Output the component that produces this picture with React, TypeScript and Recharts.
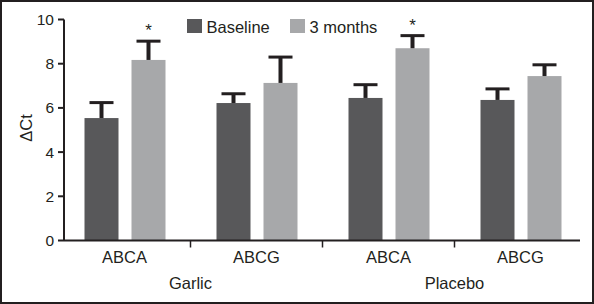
import React from 'react';
import { BarChart, Bar, XAxis, YAxis, Legend, Label } from 'recharts';

const genes = ['ABCA', 'ABCG', 'ABCA', 'ABCG'];
const groupNames = ['Garlic', 'Placebo'];
const baseline = [5.54, 6.22, 6.45, 6.36];
const baselineErr = [0.7, 0.42, 0.6, 0.5];
const months3 = [8.17, 7.13, 8.7, 7.44];
const months3Err = [0.85, 1.17, 0.57, 0.51];
const months3Sig = [true, false, true, false];
const yTicks = [0, 2, 4, 6, 8, 10];
const seriesNames = ['Baseline', '3 months'];
const yLabel = 'ΔCt';

const centers = genes.map((_, i) => i + 0.5);
const boundaries = genes.slice(1).map((_, i) => i + 1);
const xTicks = [...centers, ...boundaries].sort((a, b) => a - b);

const data = genes.map((g, i) => ({
  pos: centers[i],
  gene: g,
  baseline: baseline[i],
  baselineErr: baselineErr[i],
  baselineSig: false,
  months3: months3[i],
  months3Err: months3Err[i],
  months3Sig: months3Sig[i],
}));

const FONT = '"Liberation Sans", Arial, sans-serif';
const INK = '#231f20';
const DARK = '#58585a';
const LIGHT = '#a7a8aa';

const makeShape = (fill: string, key: string) => (props: any) => {
  const { x, y, width, height, payload } = props;
  const v = payload[key];
  const e = payload[key + 'Err'];
  const sig = payload[key + 'Sig'];
  const ppu = height / v;
  const cx = x + width / 2;
  const topY = y - e * ppu;
  return (
    <g>
      <rect x={x} y={y} width={width} height={height} fill={fill} />
      <line x1={cx} x2={cx} y1={y} y2={topY} stroke={INK} strokeWidth={4} />
      <line x1={cx - 12} x2={cx + 12} y1={topY} y2={topY} stroke={INK} strokeWidth={3} />
      {sig && (
        <text x={cx} y={topY - 5} textAnchor="middle" fontFamily={FONT} fontSize={17} fill={INK}>
          *
        </text>
      )}
    </g>
  );
};

const XTick = (props: any) => {
  const { x, y, payload } = props;
  const v = payload.value;
  const idx = centers.indexOf(v);
  if (idx >= 0) {
    return (
      <text x={x} y={y + 22.5} textAnchor="middle" fontFamily={FONT} fontSize={16.5} fill={INK}>
        {genes[idx]}
      </text>
    );
  }
  const isGroupCenter = v % 2 === 1;
  return (
    <g>
      <line x1={x} x2={x} y1={y} y2={y + 7} stroke={INK} strokeWidth={1.5} />
      {isGroupCenter && (
        <text x={x} y={y + 48.5} textAnchor="middle" fontFamily={FONT} fontSize={16.5} fill={INK}>
          {groupNames[(v - 1) / 2]}
        </text>
      )}
    </g>
  );
};

const YLabel = (props: any) => {
  const vb = props.viewBox;
  const cx = vb.x + 32;
  const cy = vb.y + vb.height / 2 - 2;
  return (
    <text x={cx} y={cy} transform={`rotate(-90 ${cx} ${cy})`} textAnchor="middle" fontFamily={FONT} fontSize={16.5} fill={INK}>
      {yLabel}
    </text>
  );
};

const LegendContent = (props: any) => {
  const items = [...(props.payload || [])].sort(
    (a: any, b: any) => seriesNames.indexOf(a.value) - seriesNames.indexOf(b.value)
  );
  const starts = [187, 290];
  return (
    <svg width={594} height={40} style={{ display: 'block' }}>
      {items.map((it: any, i: number) => (
        <g key={i}>
          <rect x={starts[i]} y={19} width={15} height={14} fill={it.color} />
          <text x={starts[i] + 19.5} y={32.7} fontFamily={FONT} fontSize={16.5} fill={INK}>
            {it.value}
          </text>
        </g>
      ))}
    </svg>
  );
};

export default function App() {
  return (
    <div style={{ position: 'fixed', left: 0, top: 0, width: 594, height: 304, background: '#fff' }}>
      <BarChart
        width={594}
        height={304}
        data={data}
        margin={{ top: 19.5, right: 14, bottom: 0, left: 0 }}
        barSize={34}
        barGap={13}
      >
        <XAxis
          dataKey="pos"
          type="number"
          domain={[5.5 / 132, 521.5 / 132]}
          allowDataOverflow
          ticks={xTicks}
          interval={0}
          tick={<XTick />}
          tickLine={false}
          tickSize={0}
          tickMargin={0}
          height={63.5}
          axisLine={{ stroke: INK, strokeWidth: 2 }}
        />
        <YAxis
          type="number"
          domain={[0, 10]}
          ticks={yTicks}
          width={64}
          tickSize={6}
          tickMargin={4}
          axisLine={{ stroke: INK, strokeWidth: 2 }}
          tickLine={{ stroke: INK, strokeWidth: 2 }}
          tick={{ fontFamily: FONT, fontSize: 15.5, fill: INK }}
        >
          <Label content={<YLabel />} />
        </YAxis>
        <Legend
          verticalAlign="middle"
          align="center"
          layout="horizontal"
          wrapperStyle={{ top: 0, left: 0, width: 594, height: 40 }}
          content={<LegendContent />}
        />
        <Bar dataKey="baseline" name={seriesNames[0]} fill={DARK} isAnimationActive={false} shape={makeShape(DARK, 'baseline')} />
        <Bar dataKey="months3" name={seriesNames[1]} fill={LIGHT} isAnimationActive={false} shape={makeShape(LIGHT, 'months3')} />
      </BarChart>
      <div
        style={{
          position: 'absolute',
          left: 0,
          top: 0,
          width: 594,
          height: 304,
          boxSizing: 'border-box',
          border: `2px solid ${INK}`,
          pointerEvents: 'none',
        }}
      />
    </div>
  );
}
